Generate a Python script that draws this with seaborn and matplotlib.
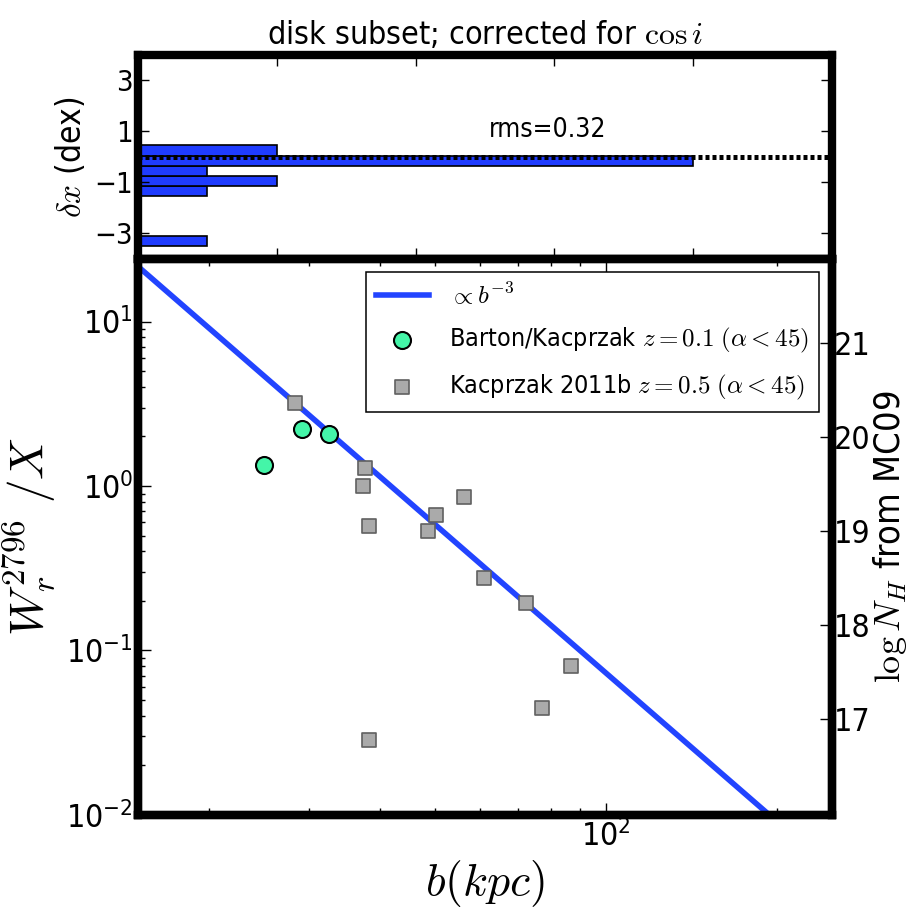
import matplotlib
matplotlib.use("Agg")
import matplotlib.pyplot as plt
import seaborn as sns

# ---------------- data ----------------
bk_b = [25.0, 29.2, 32.6]
bk_w = [1.35, 2.22, 2.06]
k11_b = [28.3, 37.6, 37.3, 38.3, 48.7, 50.3, 56.2, 60.9, 72.2, 86.8, 77.3, 38.2]
k11_w = [3.2, 1.29, 1.0, 0.57, 0.53, 0.67, 0.86, 0.274, 0.195, 0.081, 0.0448, 0.0286]
fit_b = [10.0, 300.0]
fit_norm = 7.3e4          # W = fit_norm * b^-3
dx = [0.45, 0.20, 0.00, -0.05, -0.10, -0.15, -0.20, -0.25, 0.03, -0.30,
      -0.55, -0.85, -1.00, -1.30, -3.48]
rms_label = "rms=0.32"
nh_ticks = [17, 18, 19, 20, 21]
dx_ticks = [3, 1, -1, -3]
hist_xticks = [2, 4, 6, 8]

bar_color = "#1f3cff"
line_color = "#2244ff"

plt.rcParams["font.family"] = ["DejaVu Sans"]
plt.rcParams["font.stretch"] = "condensed"
plt.rcParams["mathtext.fontset"] = "custom"
plt.rcParams["mathtext.rm"] = "DejaVu Sans:stretch=condensed"
plt.rcParams["mathtext.sf"] = "DejaVu Sans:stretch=condensed"
plt.rcParams["mathtext.it"] = "DejaVu Sans:style=italic:stretch=condensed"
plt.rcParams["mathtext.bf"] = "DejaVu Sans:weight=bold:stretch=condensed"
plt.rcParams["axes.unicode_minus"] = True

fig = plt.figure(figsize=(9.1, 9.19), dpi=100)
ax_top = fig.add_axes([0.1516, 0.7182, 0.7626, 0.222])
ax = fig.add_axes([0.1516, 0.1132, 0.7626, 0.605])

# ---------------- top histogram ----------------
sns.histplot(y=dx, bins=10, color=bar_color, alpha=1.0, edgecolor="black",
             linewidth=1.2, ax=ax_top)
ax_top.axhline(0.0, color="black", ls=(0, (0.8, 0.6)), lw=3.6, zorder=5)
ax_top.set_xlim(0, 10)
ax_top.set_ylim(-4, 4)
ax_top.set_xticks(hist_xticks)
ax_top.set_xticklabels([])
ax_top.set_yticks(dx_ticks)
ax_top.set_xlabel("")
ax_top.set_ylabel(r"$\delta x$ (dex)", fontsize=24, math_fontfamily="cm",
                  labelpad=5)
ax_top.tick_params(direction="in", top=True, right=True, length=8, width=1,
                   labelsize=21)
ax_top.text(5.9, 0.55, rms_label, ha="center", va="bottom", fontsize=19)
ax_top.set_title(r"disk subset; corrected for $\cos i$", fontsize=23,
                 math_fontfamily="cm", pad=8)

# ---------------- main panel ----------------
ax.set_xscale("log")
ax.set_yscale("log")
fit_w = [fit_norm * b ** -3 for b in fit_b]
sns.lineplot(x=fit_b, y=fit_w, color=line_color, lw=4,
             label=r"$\propto b^{-3}$", ax=ax)
sns.scatterplot(x=bk_b, y=bk_w, marker="o", s=150, color="#44f5a8",
                edgecolor="black", linewidth=1.5,
                label=r"Barton/Kacprzak $z=0.1$ $(\alpha<45)$", ax=ax, zorder=3)
sns.scatterplot(x=k11_b, y=k11_w, marker="s", s=110, color="#aaaaaa",
                edgecolor="#606060", linewidth=1.2,
                label=r"Kacprzak 2011b $z=0.5$ $(\alpha<45)$", ax=ax, zorder=3)
ax.set_xlim(15, 250)
ax.set_ylim(0.01, 24)
ax.tick_params(which="both", direction="in", top=True, right=False,
               labelsize=23)
ax.tick_params(which="major", length=9, width=1)
ax.tick_params(which="minor", length=5, width=1)
ax.set_xlabel(r"$b(kpc)$", fontsize=33, math_fontfamily="cm", labelpad=4)
ax.set_ylabel(r"$W_r^{2796}\ /X$", fontsize=34, math_fontfamily="cm",
              labelpad=6)

leg = ax.legend(loc="upper right", bbox_to_anchor=(0.981, 0.977),
                borderaxespad=0, fontsize=18, frameon=True, fancybox=False,
                framealpha=1, edgecolor="black", handlelength=2.1,
                scatterpoints=1, labelspacing=0.7, borderpad=0.4,
                handletextpad=0.8)
leg.get_frame().set_linewidth(1.1)
for t in leg.get_texts():
    t.set_math_fontfamily("cm")

ax2 = ax.twinx()
ax2.set_ylim(15.98, 21.89)
ax2.set_yticks(nh_ticks)
ax2.tick_params(direction="in", length=9, width=1, labelsize=23, pad=1.5)
ax2.set_ylabel(r"$\log N_H$ from MC09", fontsize=26, math_fontfamily="cm",
               labelpad=0)

for a in (ax_top, ax, ax2):
    for sp in a.spines.values():
        sp.set_linewidth(6)

fig.savefig("out.png", dpi=100)
